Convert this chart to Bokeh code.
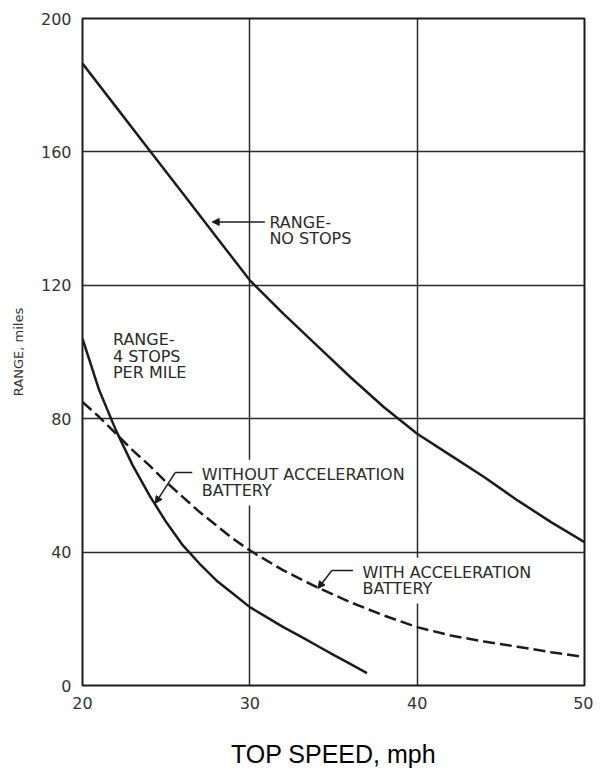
from bokeh.plotting import figure
from bokeh.models import Range1d, Label, Arrow, NormalHead, FixedTicker
from bokeh.embed import file_html
from bokeh.resources import INLINE

# ---- data ----
speed_no_stops = [20, 22, 24, 26, 28, 30, 32, 34, 36, 38, 40, 42, 44, 46, 48, 50]
range_no_stops = [186.5, 173.5, 160.5, 147.5, 134.5, 121.5, 111.5, 102, 92.5, 83.5, 75.5, 69, 62.5, 55.5, 49, 43]

speed_4stops_without = [20, 21, 22, 23, 24, 25, 26, 27, 28, 29, 30, 31, 32, 33, 34, 35, 36, 37]
range_4stops_without = [104, 88.5, 76.5, 66, 57, 49, 42, 36.5, 31.5, 27.5, 23.5, 20.5, 17.5, 14.8, 12, 9.2, 6.5, 3.7]

speed_4stops_with = [20, 21, 22, 23, 24, 25, 26, 27, 28, 29, 30, 32, 34, 36, 38, 40, 42, 44, 46, 48, 50]
range_4stops_with = [85, 80.5, 75.5, 70.5, 66, 61, 56.5, 52, 48, 44, 40.5, 34.5, 29.5, 25, 21, 17.5, 15, 13.2, 11.6, 10, 8.5]

x_ticks = [20, 30, 40, 50]
y_ticks = [0, 40, 80, 120, 160, 200]

x_title = "TOP SPEED, mph"
y_title = "RANGE, miles"

# annotation texts and anchors (data units)
note_no_stops = "RANGE-\nNO STOPS"
note_no_stops_xy = (30.87, 143.3)
note_4stops = "RANGE-\n4 STOPS\nPER MILE"
note_4stops_xy = (21.52, 108.1)
note_without = "WITHOUT ACCELERATION\nBATTERY"
note_without_xy = (26.83, 67.7)
note_with = "WITH ACCELERATION\nBATTERY"
note_with_xy = (36.43, 38.3)

# leader lines: (x0, y0, x1, y1, has_arrow)
leaders = [
    (30.9, 139.0, 27.75, 139.0, True),
    (26.56, 63.9, 25.55, 63.9, False),
    (25.55, 63.9, 24.35, 54.6, True),
    (36.16, 34.5, 34.9, 34.5, False),
    (34.9, 34.5, 34.07, 29.1, True),
]

INK = "#1c1c1c"
NOTE_FONT = "DejaVu Sans"

p = figure(width=593, height=771, output_backend="svg", toolbar_location=None,
           x_range=Range1d(20, 50), y_range=Range1d(0, 200),
           min_border_left=82, min_border_right=9, min_border_top=18, min_border_bottom=86)

p.outline_line_color = INK
p.outline_line_width = 2
p.background_fill_color = "white"
p.border_fill_color = "white"

p.xgrid.ticker = FixedTicker(ticks=x_ticks)
p.ygrid.ticker = FixedTicker(ticks=y_ticks)
for g in (p.xgrid, p.ygrid):
    g.grid_line_color = "#2a2a2a"
    g.grid_line_width = 1.5

p.xaxis.ticker = FixedTicker(ticks=x_ticks)
p.yaxis.ticker = FixedTicker(ticks=y_ticks)
for ax in (p.xaxis, p.yaxis):
    ax.axis_line_color = None
    ax.major_tick_line_color = None
    ax.minor_tick_line_color = None
    ax.major_label_text_font = NOTE_FONT
    ax.major_label_text_font_size = "16px"
    ax.major_label_text_color = "#333333"

p.xaxis.major_label_standoff = 5
p.yaxis.major_label_standoff = 5

p.xaxis.axis_label = x_title
p.xaxis.axis_label_text_font = "Liberation Sans"
p.xaxis.axis_label_text_font_style = "normal"
p.xaxis.axis_label_text_font_size = "25px"
p.xaxis.axis_label_text_color = "black"
p.xaxis.axis_label_standoff = 28

p.yaxis.axis_label = y_title
p.yaxis.axis_label_text_font = NOTE_FONT
p.yaxis.axis_label_text_font_style = "normal"
p.yaxis.axis_label_text_font_size = "13px"
p.yaxis.axis_label_text_color = "#333333"
p.yaxis.axis_label_standoff = 12

p.line(speed_no_stops, range_no_stops, line_color=INK, line_width=2.5)
p.line(speed_4stops_without, range_4stops_without, line_color=INK, line_width=2.5)
p.line(speed_4stops_with, range_4stops_with, line_color=INK, line_width=2.5, line_dash="12 5")

for txt, (lx, ly) in [(note_no_stops, note_no_stops_xy), (note_4stops, note_4stops_xy),
                      (note_without, note_without_xy), (note_with, note_with_xy)]:
    p.add_layout(Label(x=lx, y=ly, text=txt, text_align="left", text_baseline="top",
                       text_font=NOTE_FONT, text_font_size="16px", text_color="#2a2a2a",
                       text_line_height=0.88, background_fill_color="white", padding=5))

for x0, y0, x1, y1, head in leaders:
    p.add_layout(Arrow(x_start=x0, y_start=y0, x_end=x1, y_end=y1,
                       line_color=INK, line_width=1.5,
                       end=NormalHead(size=7, fill_color=INK, line_color=INK) if head else None))

open("out.html", "w").write(file_html(p, INLINE))
